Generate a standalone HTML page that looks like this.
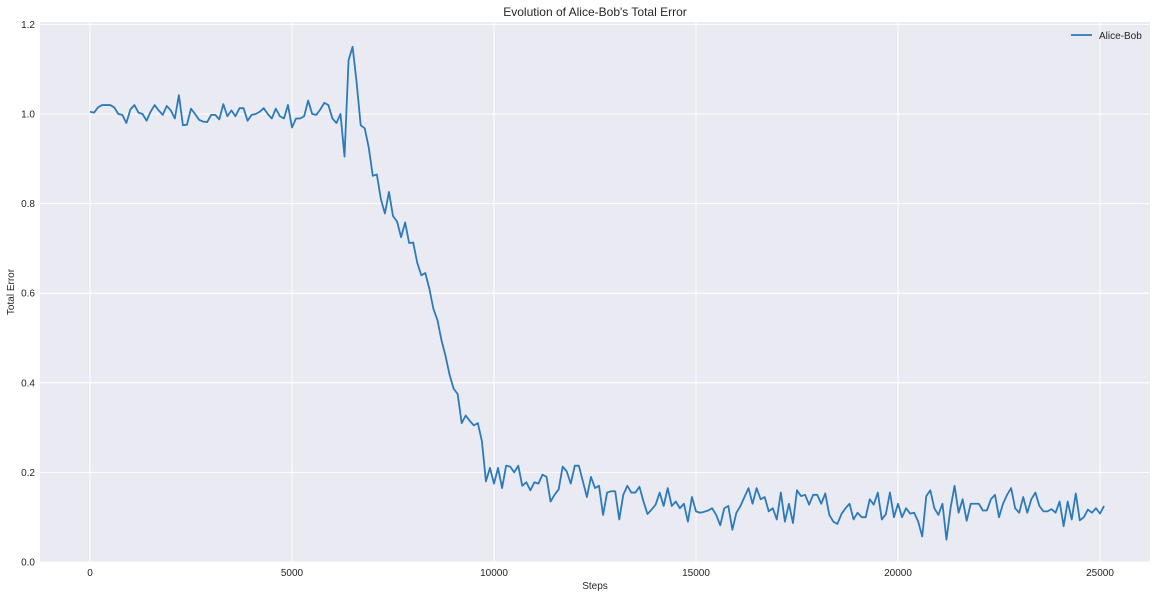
<!DOCTYPE html>
<html><head><meta charset="utf-8"><style>
body{margin:0;background:#fff;}
svg{display:block;font-family:"Liberation Sans",sans-serif;}
</style></head><body>
<svg id="chart" width="1157" height="598"></svg>
<script>
const stepInterval = 100;
const values = [1.005,1.003,1.015,1.02,1.02,1.02,1.015,1.0,0.998,0.98,1.01,1.02,1.003,1.0,0.985,1.005,1.02,1.008,0.998,1.018,1.008,0.99,1.042,0.975,0.976,1.012,1.0,0.987,0.983,0.982,0.998,0.998,0.988,1.022,0.995,1.008,0.995,1.013,1.013,0.985,0.998,1.0,1.005,1.013,1.0,0.99,1.012,0.995,0.99,1.02,0.97,0.99,0.99,0.995,1.03,1.0,0.998,1.01,1.025,1.02,0.99,0.98,1.0,0.905,1.12,1.15,1.07,0.975,0.968,0.925,0.862,0.865,0.81,0.778,0.826,0.772,0.76,0.725,0.758,0.712,0.713,0.668,0.64,0.645,0.61,0.565,0.54,0.495,0.46,0.418,0.387,0.375,0.31,0.327,0.315,0.305,0.31,0.27,0.18,0.21,0.175,0.21,0.165,0.215,0.213,0.2,0.215,0.17,0.178,0.16,0.178,0.175,0.195,0.19,0.135,0.15,0.162,0.213,0.202,0.175,0.215,0.215,0.18,0.145,0.19,0.165,0.17,0.105,0.155,0.158,0.158,0.095,0.15,0.17,0.155,0.155,0.168,0.135,0.107,0.117,0.128,0.155,0.125,0.165,0.125,0.135,0.12,0.13,0.09,0.145,0.113,0.11,0.112,0.115,0.12,0.105,0.082,0.12,0.125,0.072,0.11,0.125,0.145,0.165,0.13,0.165,0.14,0.145,0.113,0.12,0.095,0.155,0.09,0.13,0.087,0.16,0.147,0.15,0.128,0.15,0.15,0.13,0.153,0.105,0.09,0.085,0.107,0.12,0.13,0.095,0.11,0.1,0.1,0.14,0.128,0.155,0.095,0.107,0.155,0.1,0.13,0.1,0.12,0.108,0.11,0.09,0.057,0.147,0.16,0.12,0.105,0.13,0.05,0.12,0.17,0.11,0.14,0.092,0.13,0.13,0.13,0.115,0.115,0.14,0.15,0.1,0.13,0.15,0.165,0.12,0.11,0.145,0.11,0.14,0.155,0.125,0.113,0.113,0.118,0.11,0.135,0.08,0.135,0.095,0.153,0.093,0.1,0.117,0.11,0.12,0.108,0.125];
const xTicks = [0,5000,10000,15000,20000,25000];
const yTicks = [0.0,0.2,0.4,0.6,0.8,1.0,1.2];

const NS="http://www.w3.org/2000/svg";
const svg=document.getElementById('chart');
const L=40,R=1150,T=22,B=562;
const xs=v=>90+(v/25000)*(1100-90);
const ys=v=>562-v*448;
function mk(tag,attrs,parent){const e=document.createElementNS(NS,tag);for(const k in attrs)e.setAttribute(k,attrs[k]);(parent||svg).appendChild(e);return e;}

const bg=mk('rect',{x:L,y:T,width:R-L,height:B-T,fill:'#eaeaf2'});



xTicks.forEach(t=>{
  const g=mk('line',{x1:xs(t),x2:xs(t),y1:T,y2:B,stroke:'#fff','stroke-width':1});
  
  
  const lb=mk('text',{x:xs(t),y:576,'font-size':10,'text-anchor':'middle',fill:'#262626'});
  lb.textContent=t;
  
  
});
yTicks.forEach(t=>{
  const g=mk('line',{x1:L,x2:R,y1:ys(t),y2:ys(t),stroke:'#fff','stroke-width':1});
  
  
  const lb=mk('text',{x:35,y:ys(t)+3.5,'font-size':10,'text-anchor':'end',fill:'#262626'});
  lb.textContent=t.toFixed(1);
  
  
});

const pts=values.map((v,i)=>xs(i*stepInterval).toFixed(2)+','+ys(v).toFixed(2)).join(' ');
const line=mk('polyline',{points:pts,fill:'none',stroke:'#2b7bba','stroke-width':1.8,'stroke-linejoin':'round'});



const title=mk('text',{x:595,y:16,'font-size':12,'text-anchor':'middle',fill:'#262626'});
title.textContent="Evolution of Alice-Bob's Total Error";



const xl=mk('text',{x:595,y:589,'font-size':10,'text-anchor':'middle',fill:'#262626'});
xl.textContent='Steps';



const yl=mk('text',{x:14,y:292,'font-size':10,'text-anchor':'middle',fill:'#262626',transform:'rotate(-90 14 292)'});
yl.textContent='Total Error';



const lg=mk('g',{});


mk('line',{x1:1071,x2:1092,y1:35,y2:35,stroke:'#2b7bba','stroke-width':1.8},lg);
const lt=mk('text',{x:1099,y:39,'font-size':10,fill:'#262626'},lg);
lt.textContent='Alice-Bob';
</script>
</body></html>
